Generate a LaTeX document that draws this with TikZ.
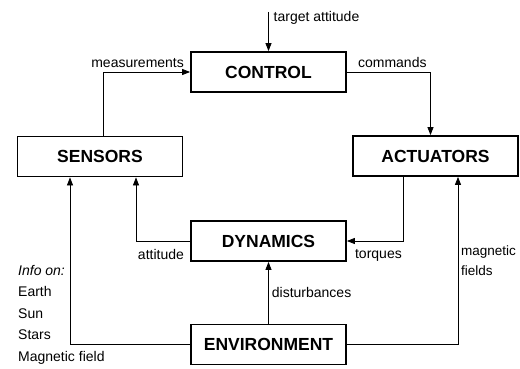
\documentclass[tikz,border=0pt]{standalone}
\usepackage{fontspec}
\setmainfont{Liberation Sans}
\usetikzlibrary{arrows.meta, positioning, calc}

\begin{document}
\begin{tikzpicture}[
        x=1pt, y=-1pt,
        every node/.style={font=\fontsize{14}{21.5}\selectfont},
        block/.style={rectangle,draw,line width=1.8pt,minimum width=155pt,minimum height=40pt,
          font=\fontsize{17.5}{20}\selectfont\bfseries},
        wide/.style={minimum width=165pt},
        lbl/.style={inner sep=0pt},
        flow/.style={line width=0.8pt,-{Triangle[length=8pt,width=6pt]}}
      ]
      \useasboundingbox (0,0) rectangle (520,369);

      % Blocks
      \node[block] (control) at (268.5,72) {CONTROL};
      \node[block,wide] (sensors) at (100,156.5) {SENSORS};
      \node[block,wide] (actuators) at (435.5,156) {ACTUATORS};
      \node[block] (dynamics) at (268.5,241) {DYNAMICS};
      \node[block] (environment) at (268.5,344.5) {ENVIRONMENT};

      % Reference input
      \coordinate (tgt) at (268.5,12);
      \draw[flow] (tgt) -- (control);
      \node[lbl,anchor=west] at ([xshift=5pt,yshift=-6pt]tgt) {target attitude};

      % Control loop
      \draw[flow] ([xshift=3pt]sensors.north) |- (control.west);
      \node[lbl,anchor=south east] at ([xshift=-6pt,yshift=4pt]control.west) {measurements};
      \draw[flow] (control.east) -| ([xshift=-5pt]actuators.north);
      \node[lbl,anchor=south west] at ([xshift=11pt,yshift=4pt]control.east) {commands};

      % Dynamics
      \draw[flow] ([xshift=-32.5pt]actuators.south) |- (dynamics.east);
      \node[lbl,anchor=north west] at ([xshift=8pt,yshift=-8pt]dynamics.east) {torques};
      \draw[flow] (dynamics.west) -| ([xshift=36pt]sensors.south);
      \node[lbl,anchor=north east] at ([xshift=-6pt,yshift=-8pt]dynamics.west) {attitude};

      % Environment
      \draw[flow] (environment) -- node[lbl,right=3pt] {disturbances} (dynamics);
      \draw[flow] (environment.west) -| ([xshift=-30pt]sensors.south);
      \draw[flow] (environment.east) -| ([xshift=22.5pt]actuators.south);
      \node[lbl,align=left,anchor=north west,font=\fontsize{13.5}{20}\selectfont] (magfld) at (461,246) {magnetic\\fields};
      \node[lbl,align=left,anchor=north west] (info) at (18,265) {\textit{Info on:}\\Earth\\Sun\\Stars\\Magnetic field};
    \end{tikzpicture}
\end{document}
